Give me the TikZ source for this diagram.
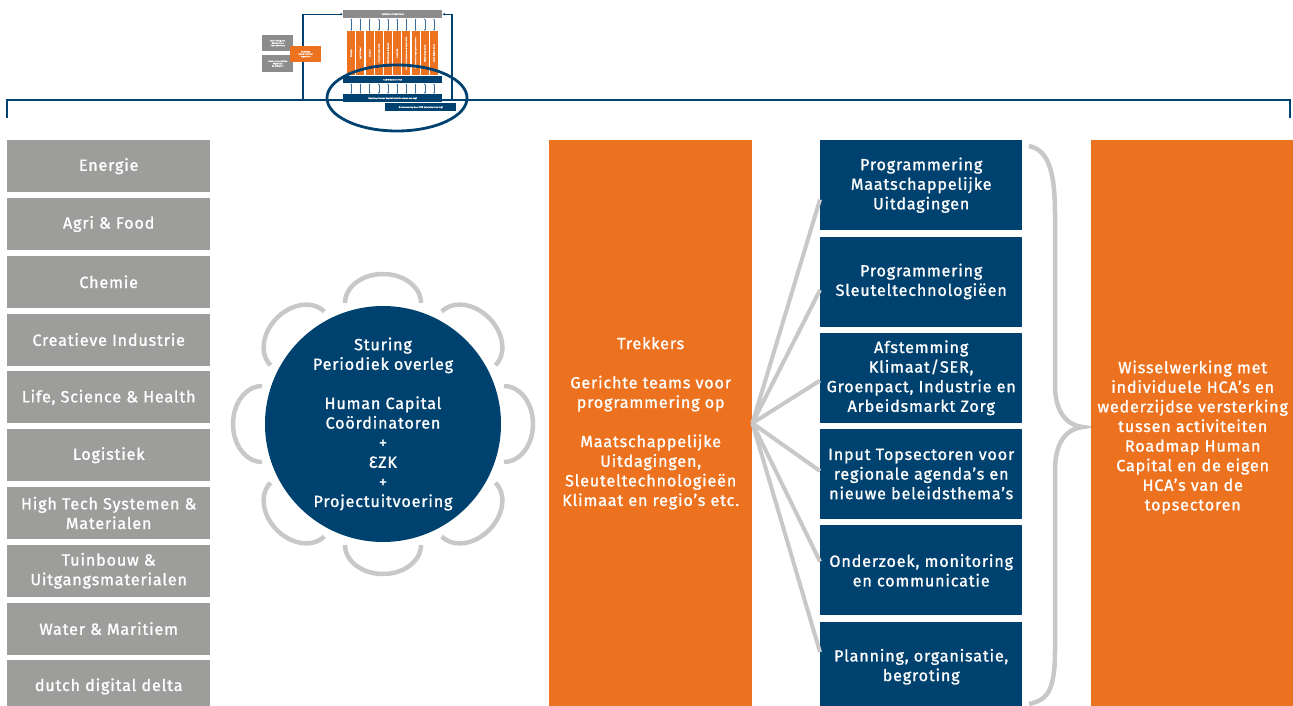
\documentclass[tikz,border=0pt]{standalone}
\usepackage{fontspec}
\setmainfont{Fira Sans}[FakeBold=1.1,LetterSpace=5]
\usetikzlibrary{calc,arrows.meta,shapes.geometric}
\definecolor{navy}{HTML}{00426F}
\definecolor{hcorange}{HTML}{EC7220}
\definecolor{sectorgrey}{HTML}{9D9D9C}
\definecolor{chairgrey}{HTML}{C8C8C8}
\definecolor{thumbgrey}{HTML}{8C8C8C}
\definecolor{thumbarrow}{HTML}{3C6E9C}
\begin{document}
\begin{tikzpicture}[x=1pt,y=-1pt,
  txt/.style={text=white, align=center, font=\fontsize{16.2}{19.6}\selectfont},
  sector/.style={txt, fill=sectorgrey, minimum width=203pt, minimum height=52pt, inner sep=0pt, anchor=north west},
  task/.style={txt, fill=navy, minimum width=202pt, minimum height=90pt, inner sep=0pt, anchor=north west},
  bigorange/.style={fill=hcorange, minimum width=203pt, minimum height=566pt, inner sep=0pt, anchor=north west},
  chair/.style={draw=chairgrey, line width=4.5pt},
  fanline/.style={draw=chairgrey, line width=4pt},
  frame/.style={draw=navy, line width=2.5pt},
  tiny/.style={text=white, font=\fontsize{2}{2.4}\selectfont, inner sep=0pt, align=center},
  tbox/.style={tiny, inner sep=0pt, anchor=north west},
  tline/.style={draw=navy, line width=1.2pt},
  tarrow/.style={draw=thumbarrow, line width=0.6pt, {Latex[length=1.6pt,width=1.6pt]}-{Latex[length=1.6pt,width=1.6pt]}}
]
\useasboundingbox (0,0) rectangle (1293,706);

% main bracket line
\coordinate (bl) at (7,118);
\coordinate (br) at (1290,118);
\draw[frame] (bl) -- (7,100) -- (1290,100) -- (br);

% thumbnail
\node[tbox, fill=thumbgrey, minimum width=99pt, minimum height=8pt] (tsys) at (343,10) {Systeem en Roadmaps};
\foreach \i/\t in {0/Energie,1/Agri \& Food,2/Chemie,3/Creatieve Industrie,4/Life Science \& Health,5/Logistiek,6/High Tech Systemen \& Materialen,7/Tuinbouw \& Uitgangsmaterialen,8/Water \& Maritiem,9/dutch digital delta}{
  \node[tbox, fill=hcorange, minimum width=8pt, minimum height=44pt] (tb\i) at ({347+9.2*\i},31) {};
  \node[tiny, rotate=90] at (tb\i.center) {\t};
}
\node[tbox, fill=navy, minimum width=99pt, minimum height=7pt] (tco) at (343,76) {Coördinatoren HCA};
\node[tbox, fill=navy, minimum width=99pt, minimum height=8pt] (trm) at (343,94) {Roadmap Human Capital (coördinatoren overleg)};
\node[tbox, fill=navy, minimum width=71pt, minimum height=8pt] (tpno) at (385,103) {Ondersteuning door PNO (projectuitvoering)};
\foreach \i in {0,...,9}{
  \draw[tarrow] (tb\i.north |- tsys.south) -- (tb\i.north);
  \draw[tarrow] (tb\i.south |- tco.south) -- (tb\i.south |- trm.north);
}
\coordinate (tleft) at (303,100);
\coordinate (tright) at (452,100);
\draw[tline, -{Latex[length=2.5pt,width=2.5pt]}] (tleft) |- (tsys.west);
\draw[tline, -{Latex[length=2.5pt,width=2.5pt]}] (tright) |- (tsys.east);
\node[tbox, fill=thumbgrey, minimum width=31pt, minimum height=16pt] (tg1) at (262,35) {Verbinding met\\Hoogleraren\\naar Roadmap};
\node[tbox, fill=thumbgrey, minimum width=31pt, minimum height=17pt] (tg2) at (262,55) {Inzet van landelijke\\Regionale\\beleidsplan};
\node[tbox, fill=hcorange, minimum width=31pt, minimum height=16pt] (tor) at (290,46) {Roadmap\\Human Capital\\topsector};
\node[draw=navy, line width=2.8pt, ellipse, minimum width=140pt, minimum height=66pt] (focus) at (397,98) {};

% sectors
\foreach \i/\t in {0/Energie,1/Agri \& Food,2/Chemie,3/Creatieve Industrie,4/{Life, Science \& Health},5/Logistiek,6/{High Tech Systemen \&\\Materialen},7/{Tuinbouw \&\\Uitgangsmaterialen},8/Water \& Maritiem,9/dutch digital delta}{
  \node[sector] (s\i) at (7,{140+57.8*\i}) {\t};
}

% round table
\node[circle, fill=navy, minimum size=236pt, inner sep=0pt, txt] (table) at (383,424)
  {Sturing\\Periodiek overleg\\[19.6pt]Human Capital\\Coördinatoren\\+\\ƐZK\\+\\Projectuitvoering};
\foreach \a in {0,45,90,135,180,225,270,315}{
  \begin{scope}[shift={(table.center)}, rotate=\a]
    \draw[chair] (121,-38) arc[start angle=-90, end angle=90, x radius=29, y radius=38];
  \end{scope}
}

% trekkers
\node[bigorange, txt] (trek) at (549,140)
  {Trekkers\\[19.6pt]Gerichte teams voor\\programmering op\\[19.6pt]Maatschappelijke\\Uitdagingen,\\Sleuteltechnologieën\\Klimaat en regio's etc.};

% task boxes
\node[task] (t1) at (820,140) {Programmering\\Maatschappelijke\\Uitdagingen};
\node[task] (t2) at (820,236.3) {Programmering\\Sleuteltechnologiëen};
\node[task] (t3) at (820,332.6) {Afstemming\\Klimaat/SER,\\Groenpact, Industrie en\\Arbeidsmarkt Zorg};
\node[task] (t4) at (820,428.9) {Input Topsectoren voor\\regionale agenda's en\\nieuwe beleidsthema's};
\node[task] (t5) at (820,525.2) {Onderzoek, monitoring\\en communicatie};
\node[task] (t6) at (820,621.5) {Planning, organisatie,\\begroting};
\foreach \i in {1,...,6}{
  \draw[fanline] (trek.east) -- ($(t\i.west)!0.06!(t\i.west |- trek.east)$);
}

% brace
\draw[chair] (1029,146) .. controls (1048,150) and (1055,170) .. (1055,215) -- (1055,385)
  .. controls (1055,410) and (1065,425) .. (1083,427)
  .. controls (1065,429) and (1055,444) .. (1055,470) -- (1055,650)
  .. controls (1055,690) and (1048,700) .. (1029,704);

% right box
\node[bigorange] (hca) at (1091,140) {};
\node[txt] (hcatxt) at ($(hca.center)+(0,14)$)
  {Wisselwerking met\\individuele HCA's en\\wederzijdse versterking\\tussen activiteiten\\Roadmap Human\\Capital en de eigen\\HCA's van de\\topsectoren};
\end{tikzpicture}
\end{document}
